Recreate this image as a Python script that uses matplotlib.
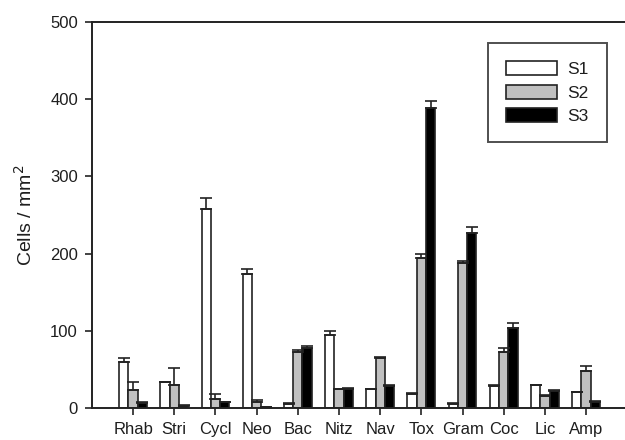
#!/usr/bin/env python3

# Grouped bar chart of cell densities for three sites (S1, S2, S3).

import matplotlib
matplotlib.use("Agg")
from matplotlib import pyplot as plt
import numpy as np

taxa = ["Rhab", "Stri", "Cycl", "Neo", "Bac", "Nitz", "Nav", "Tox", "Gram", "Coc", "Lic", "Amp"]

s1 = [60, 33, 258, 174, 5, 94, 24, 18, 5, 28, 29, 20]
s2 = [23, 30, 12, 7, 73, 24, 65, 194, 188, 73, 16, 48]
s3 = [6, 3, 7, 1, 77, 25, 28, 388, 226, 103, 22, 8]

s1_err = [5, 1, 14, 6, 1, 6, 1, 1, 1, 1, 1, 1]
s2_err = [10, 22, 6, 3, 2, 1, 1, 6, 2, 5, 1, 6]
s3_err = [1, 1, 1, 0, 3, 1, 1, 10, 8, 7, 1, 1]

series = ["S1", "S2", "S3"]
colors = ["white", "#c0c0c0", "black"]

plt.rcParams["font.family"] = ["Liberation Sans", "DejaVu Sans"]
txt = "#1e1e1e"

fig = plt.figure(figsize=(6.25, 4.4), dpi=100)
ax = fig.add_axes([0.147, 0.073, 0.86, 0.877])

x = np.arange(len(taxa))
width = 0.225

for i, (vals, errs, col, name) in enumerate(zip([s1, s2, s3], [s1_err, s2_err, s3_err], colors, series)):
    pos = x + (i - 1) * width
    ax.bar(pos, vals, width, color=col, edgecolor="#222222", linewidth=1.2, label=name, zorder=2)
    ax.errorbar(pos, vals, yerr=[np.zeros(len(vals)), errs], fmt="none",
                ecolor="#222222", elinewidth=1.2, capsize=4.5, capthick=1.2, zorder=3)

ax.set_xlim(-1.0, 12.05)
ax.set_ylim(0, 500)
ax.set_yticks([0, 100, 200, 300, 400, 500])
ax.set_xticks(x)
ax.set_xticklabels(taxa)
ax.tick_params(axis="both", direction="out", length=5, width=1.2,
               labelsize=12, colors="#222222", labelcolor=txt)
ax.tick_params(axis="x", pad=5)
ax.tick_params(axis="y", pad=5)
ax.set_ylabel("Cells / mm$^2$", fontsize=14, labelpad=10, color=txt)

for side in ["left", "bottom", "top"]:
    ax.spines[side].set_linewidth(1.4)
    ax.spines[side].set_color("#222222")
ax.spines["right"].set_visible(False)

leg = ax.legend(loc="upper right", bbox_to_anchor=(0.958, 0.946), fontsize=12.5,
                frameon=True, fancybox=False, edgecolor="#222222",
                handlelength=2.9, handleheight=0.9, labelspacing=0.42,
                borderpad=1.05, handletextpad=0.6, borderaxespad=0)
leg.get_frame().set_linewidth(1.4)
for t in leg.get_texts():
    t.set_color(txt)

plt.savefig("out.png")
plt.close()
